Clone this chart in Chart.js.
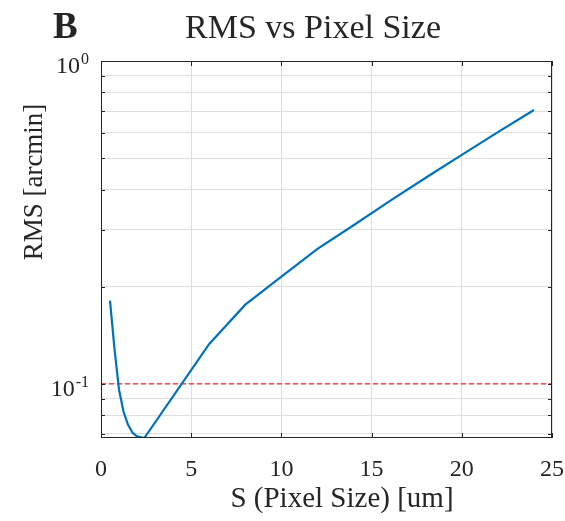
<!DOCTYPE html>
<html lang="en">
<head>
  <meta charset="UTF-8">
  <title>RMS vs Pixel Size</title>
  <script src="https://cdn.jsdelivr.net/npm/chart.js@4.4.0/dist/chart.umd.min.js"></script>
  <style>
    html, body { margin: 0; padding: 0; background: #ffffff; }
    .chart-box { width: 565px; height: 521px; }
  </style>
</head>
<body>
  <div class="chart-box">
    <canvas id="rmsChart" width="565" height="521"></canvas>
  </div>

  <script>
    // data
    const pixelSize = [0.5, 0.75, 1, 1.25, 1.5, 1.75, 2, 2.4, 6, 8, 10, 12, 14, 16, 18, 20, 22, 24];
    const rmsValues = [0.181, 0.128, 0.0958, 0.082, 0.0747, 0.0706, 0.0688, 0.068, 0.133, 0.176, 0.215, 0.262, 0.31, 0.368, 0.435, 0.512, 0.602, 0.705];
    const thresholdX = [0, 25];
    const thresholdY = [0.1, 0.1];
    const xTicks = [0, 5, 10, 15, 20, 25];
    const yGrid = [0.07, 0.08, 0.09, 0.1, 0.2, 0.3, 0.4, 0.5, 0.6, 0.7, 0.8, 0.9, 1];
    const yDecades = [0.1, 1];
    const yDecadeLabels = ['-1', '0'];

    const SERIF = '"Liberation Serif", "DejaVu Serif", serif';
    const INK = '#262626';

    const matlabAxes = {
      id: 'matlabAxes',
      afterDraw(chart) {
        const { ctx, chartArea: a, scales: { x, y } } = chart;
        ctx.save();

        // box and inward ticks
        ctx.strokeStyle = INK;
        ctx.lineWidth = 1;
        ctx.strokeRect(a.left + 0.5, a.top + 0.5, a.right - a.left - 1, a.bottom - a.top - 1);
        ctx.beginPath();
        xTicks.forEach(v => {
          const px = Math.round(x.getPixelForValue(v)) + 0.5;
          ctx.moveTo(px, a.bottom); ctx.lineTo(px, a.bottom - 5);
          ctx.moveTo(px, a.top); ctx.lineTo(px, a.top + 5);
        });
        yGrid.forEach(v => {
          const py = Math.round(y.getPixelForValue(v)) + 0.5;
          ctx.moveTo(a.left, py); ctx.lineTo(a.left + 4, py);
          ctx.moveTo(a.right, py); ctx.lineTo(a.right - 4, py);
        });
        ctx.stroke();

        ctx.fillStyle = INK;
        ctx.textBaseline = 'alphabetic';

        // x tick labels
        ctx.font = '24px ' + SERIF;
        ctx.textAlign = 'center';
        xTicks.forEach(v => {
          ctx.fillText(String(v), x.getPixelForValue(v), a.bottom + 38);
        });

        // y tick labels (10^n)
        yDecades.forEach((v, i) => {
          const py = y.getPixelForValue(v);
          ctx.font = '16px ' + SERIF;
          ctx.textAlign = 'right';
          const sup = yDecadeLabels[i];
          const supW = ctx.measureText(sup).width;
          ctx.fillText(sup, a.left - 12, py + 3);
          ctx.font = '24px ' + SERIF;
          ctx.fillText('10', a.left - 12 - supW - 1, py + 12);
        });

        // axis titles
        ctx.textAlign = 'center';
        ctx.font = '29px ' + SERIF;
        ctx.fillText('S (Pixel Size) [um]', 342, 507);

        ctx.save();
        ctx.translate(42, 182);
        ctx.rotate(-Math.PI / 2);
        ctx.font = '27px ' + SERIF;
        ctx.fillText('RMS [arcmin]', 0, 0);
        ctx.restore();

        // title and panel letter
        ctx.font = '34px ' + SERIF;
        ctx.fillText('RMS vs Pixel Size', 313, 38);
        ctx.textAlign = 'left';
        ctx.font = 'bold 37px ' + SERIF;
        ctx.fillText('B', 53, 38);

        ctx.restore();
      }
    };

    const ctx = document.getElementById('rmsChart').getContext('2d');
    const chart = new Chart(ctx, {
      type: 'line',
      data: {
        datasets: [
          {
            label: 'RMS',
            data: pixelSize.map((s, i) => ({ x: s, y: rmsValues[i] })),
            borderColor: '#0072BD',
            borderWidth: 2.2,
            pointRadius: 0,
            tension: 0,
            fill: false
          },
          {
            label: 'threshold',
            data: thresholdX.map((s, i) => ({ x: s, y: thresholdY[i] })),
            borderColor: '#f0282d',
            borderWidth: 1.3,
            borderDash: [5, 3],
            pointRadius: 0,
            fill: false
          }
        ]
      },
      options: {
        responsive: false,
        animation: false,
        layout: { padding: { left: 101, top: 61, right: 13, bottom: 83 } },
        plugins: {
          legend: { display: false },
          tooltip: { enabled: false }
        },
        scales: {
          x: {
            type: 'linear',
            min: 0,
            max: 25,
            afterBuildTicks: s => { s.ticks = xTicks.map(v => ({ value: v })); },
            afterFit: s => { s.height = 0; },
            ticks: { display: false },
            border: { display: false },
            grid: { color: '#dedede', lineWidth: 1, drawTicks: false }
          },
          y: {
            type: 'logarithmic',
            min: 0.068,
            max: 1,
            afterBuildTicks: s => { s.ticks = yGrid.map(v => ({ value: v })); },
            afterFit: s => { s.width = 0; },
            ticks: { display: false },
            border: { display: false },
            grid: { color: '#dedede', lineWidth: 1, drawTicks: false }
          }
        }
      },
      plugins: [matlabAxes]
    });
  </script>
</body>
</html>
